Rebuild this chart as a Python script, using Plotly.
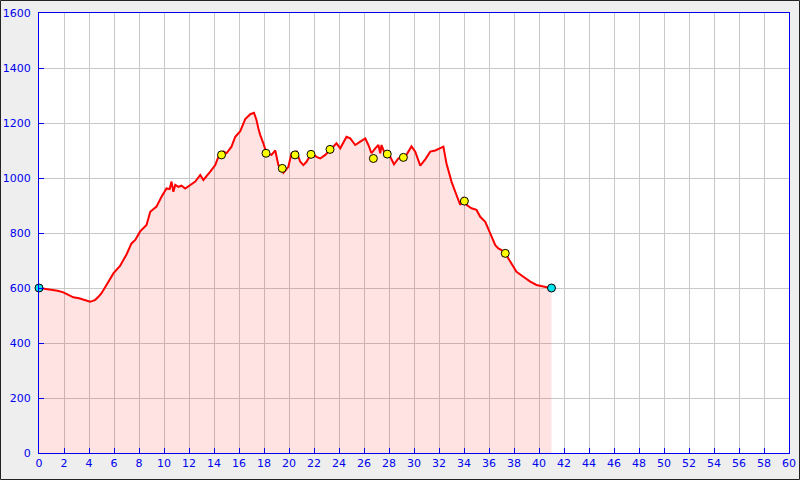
import plotly.graph_objects as go

# Elevation profile (distance km, elevation m)
dist_km = [0.0, 0.5, 0.9, 1.5, 1.95, 2.4, 2.75, 3.2, 3.55, 3.9, 4.1, 4.3, 4.5, 4.75, 5.0,
           5.4, 5.95, 6.48, 7.0, 7.4, 7.7, 8.08, 8.6, 8.9, 9.4, 9.8, 10.2, 10.45, 10.6,
           10.75, 10.9, 11.15, 11.4, 11.7, 12.1, 12.5, 12.9, 13.15, 13.7, 14.1, 14.35,
           14.75, 15.0, 15.4, 15.7, 16.1, 16.5, 16.9, 17.2, 17.4, 17.55, 17.7, 17.95,
           18.2, 18.6, 18.9, 19.15, 19.55, 19.95, 20.2, 20.35, 20.6, 20.9, 21.15, 21.4,
           21.8, 22.2, 22.5, 22.9, 23.3, 23.8, 24.1, 24.6, 24.9, 25.3, 25.7, 26.1, 26.35,
           26.6, 26.9, 27.15, 27.3, 27.4, 27.7, 28.1, 28.4, 28.75, 29.3, 29.8, 30.1, 30.5,
           30.9, 31.3, 31.7, 32.1, 32.35, 32.6, 33.0, 33.3, 33.7, 33.95, 34.2, 34.6, 35.0,
           35.3, 35.7, 36.1, 36.5, 36.75, 37.0, 37.3, 37.7, 38.2, 38.75, 39.3, 39.8,
           40.35, 41.0]
elev_m = [600, 597, 593, 590, 584, 575, 566, 563, 559, 553, 550, 553, 557, 568, 581,
          611, 653, 680, 722, 762, 775, 805, 829, 877, 896, 932, 962, 960, 987,
          950, 975, 968, 972, 962, 975, 987, 1011, 993, 1023, 1047, 1077,
          1096, 1090, 1114, 1150, 1170, 1214, 1232, 1237, 1211, 1180, 1156, 1126,
          1090, 1084, 1100, 1047, 1019, 1041, 1090, 1092, 1096, 1059, 1047, 1059,
          1090, 1077, 1071, 1084, 1102, 1126, 1108, 1150, 1144, 1120, 1132, 1144, 1120,
          1090, 1108, 1120, 1090, 1120, 1084, 1077, 1050, 1071, 1077, 1115, 1096, 1045,
          1068, 1096, 1100, 1110, 1114, 1053, 987, 950, 902, 930, 902, 890, 884,
          859, 841, 799, 756, 744, 738, 726, 696, 659, 641, 623, 611,
          605, 599]

# Waypoints
wp_km = [14.6, 18.16, 19.46, 20.48, 21.76, 23.28, 26.75, 27.86, 29.15, 34.03, 37.3]
wp_elev = [1084, 1090, 1035, 1084, 1086, 1104, 1071, 1087, 1075, 916, 726]

# Start / finish
end_km = [0.0, 41.0]
end_elev = [600, 600]

x_ticks = list(range(0, 61, 2))
y_ticks = list(range(0, 1601, 200))

axis_blue = "#0000ee"

fig = go.Figure()
fig.add_trace(go.Scatter(
    x=dist_km, y=elev_m, mode="lines", fill="tozeroy",
    fillcolor="rgba(255,0,0,0.115)",
    line=dict(color="#ff0000", width=2), hoverinfo="skip", showlegend=False))
fig.add_trace(go.Scatter(
    x=wp_km, y=wp_elev, mode="markers",
    marker=dict(size=8, color="#ffff00", line=dict(color="#000000", width=1)),
    showlegend=False))
fig.add_trace(go.Scatter(
    x=end_km, y=end_elev, mode="markers", cliponaxis=False,
    marker=dict(size=8, color="#00e5ee", line=dict(color="#000000", width=1)),
    showlegend=False))

font = dict(family="DejaVu Sans", size=11, color=axis_blue)
fig.update_layout(
    width=800, height=480,
    margin=dict(l=39, r=11, t=13, b=27, autoexpand=False),
    paper_bgcolor="#eeeeee", plot_bgcolor="#ffffff",
    xaxis=dict(range=[0, 60], tickvals=x_ticks, ticktext=[str(v) for v in x_ticks],
               showgrid=True, gridcolor="#c8c8c8", gridwidth=1, zeroline=False,
               showline=True, linecolor=axis_blue, linewidth=1, mirror=True,
               ticks="inside", ticklen=5, tickcolor=axis_blue, tickfont=font,
               automargin=False, fixedrange=True),
    yaxis=dict(range=[0, 1600], tickvals=y_ticks, ticktext=[str(v) for v in y_ticks],
               showgrid=True, gridcolor="#c8c8c8", gridwidth=1, zeroline=False,
               showline=True, linecolor=axis_blue, linewidth=1, mirror=True,
               ticks="inside", ticklen=5, tickcolor=axis_blue, tickfont=font,
               ticklabelstandoff=5, automargin=False, fixedrange=True),
    font=font,
)
# outer border of the image
fig.add_shape(type="rect", xref="paper", yref="paper",
              x0=(0.5 - 39) / 750, x1=(799.5 - 39) / 750,
              y0=(453 - 479.5) / 440, y1=(453 - 0.5) / 440,
              line=dict(color="#222222", width=1), fillcolor="rgba(0,0,0,0)", layer="above")

fig.write_html("out.html", config={"displayModeBar": False},
               post_script="document.body.style.margin='0';document.body.style.padding='0';")
